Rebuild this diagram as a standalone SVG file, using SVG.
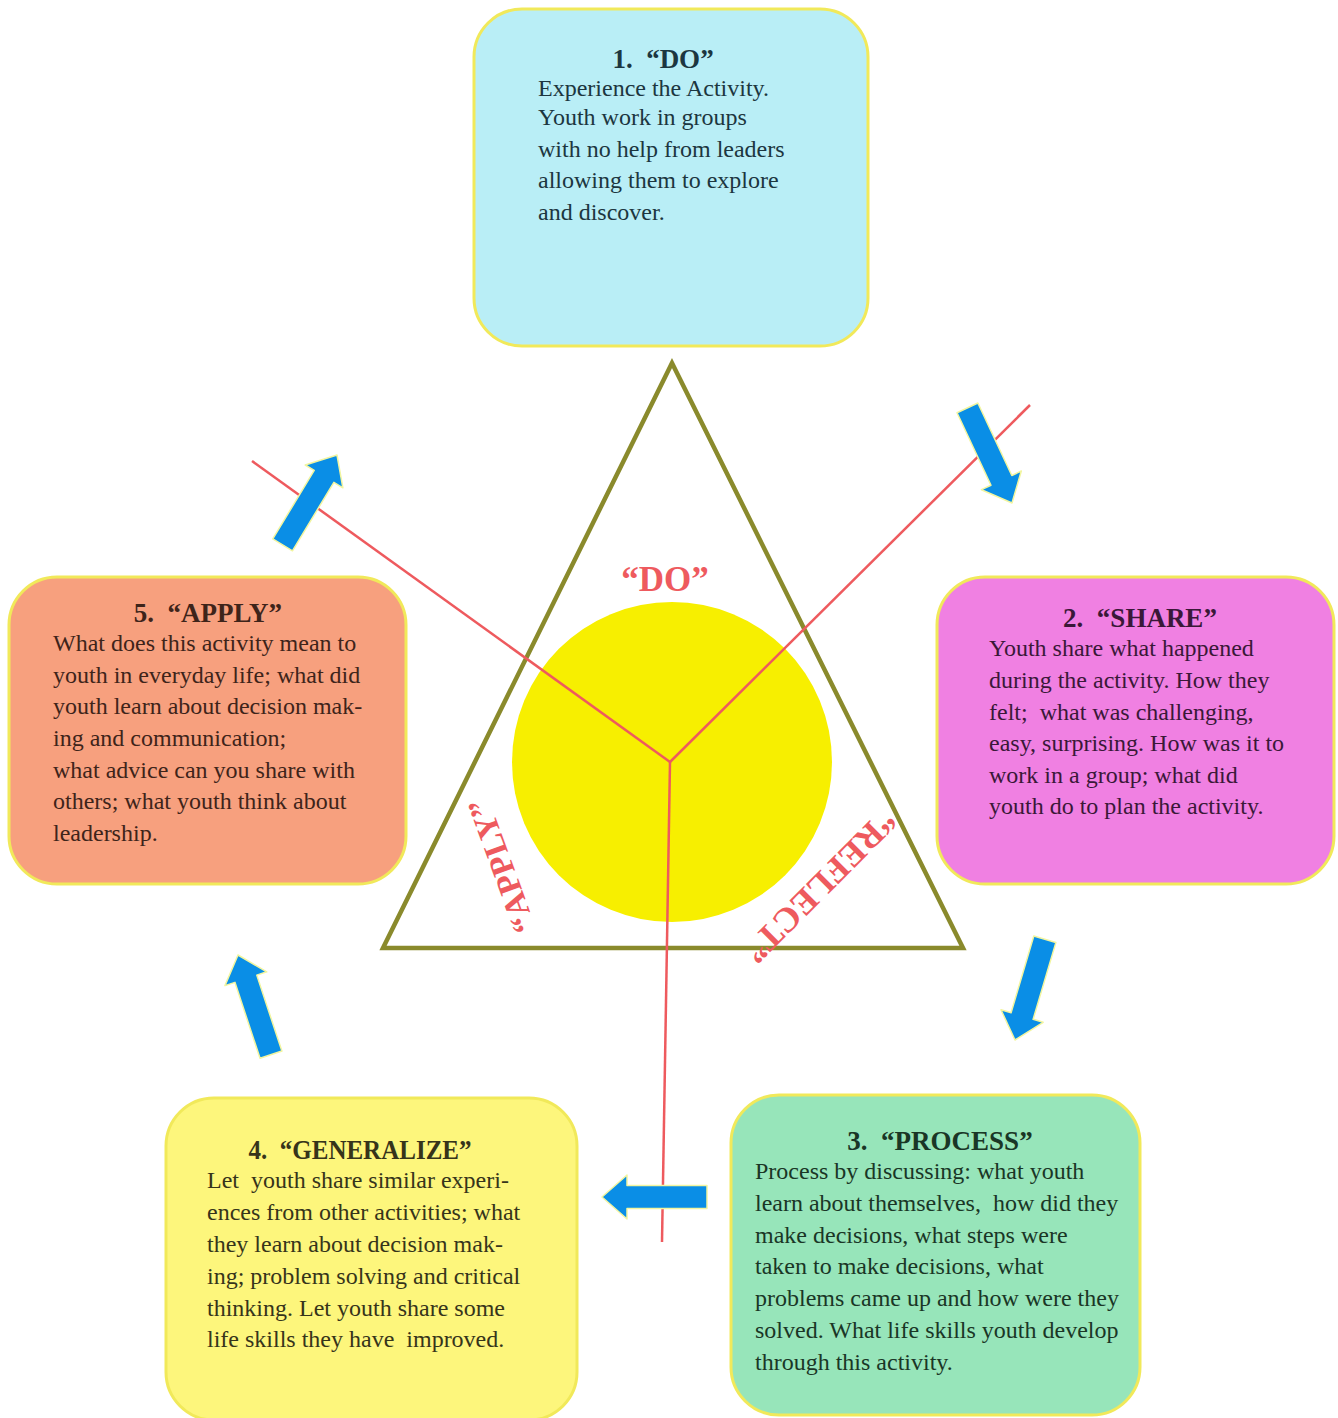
<svg xmlns="http://www.w3.org/2000/svg" width="1338" height="1418" viewBox="0 0 1338 1418">
<style>
.box{stroke:#f1e95a;stroke-width:3}
.t{font-family:"Liberation Serif","Times New Roman",serif;font-size:27px;font-weight:bold;text-anchor:middle;white-space:pre}
.b{font-family:"Liberation Serif","Times New Roman",serif;font-size:24px;white-space:pre}
.lbl{font-family:"Liberation Serif","Times New Roman",serif;font-weight:bold;fill:#ee5a5e;text-anchor:middle}
.arr{fill:#0a8ee6;stroke:#f2f5a0;stroke-width:1.5;stroke-linejoin:round}
.red{stroke:#ee5a5e;stroke-width:2.5;fill:none}
#do text{fill:#1c3640}
#share text{fill:#3a1838}
#process text{fill:#1a3626}
#generalize text{fill:#36341a}
#apply text{fill:#3e241a}
</style>
<defs>
<path id="ar" d="M0,0 L-25,-22 L-25,-11.5 L-105,-11.5 L-105,11.5 L-25,11.5 L-25,22 Z"/>
</defs>
<rect width="1338" height="1418" fill="#ffffff"/>

<g id="center">
<polygon points="672,363 383,948 963,948" fill="none" stroke="#8a8a2c" stroke-width="4.5"/>
<circle cx="672" cy="762" r="160" fill="#f7ef00"/>
<text class="lbl" x="665" y="591" font-size="35">“DO”</text>
<text class="lbl" font-size="33" transform="translate(512,862) rotate(-110)">“APPLY”</text>
<text class="lbl" font-size="35" transform="translate(812,878) rotate(135)">“REFLECT”</text>
</g>

<g id="connectors">
<line class="red" x1="670" y1="762" x2="1030" y2="405"/>
<line class="red" x1="670" y1="762" x2="252" y2="461"/>
<line class="red" x1="670" y1="762" x2="662" y2="1242"/>
<use href="#ar" class="arr" transform="translate(1012,503) rotate(64.9)"/>
<use href="#ar" class="arr" transform="translate(337,455) rotate(-58.8)"/>
<use href="#ar" class="arr" transform="translate(1015,1040) rotate(106.5)"/>
<use href="#ar" class="arr" transform="translate(238,955) rotate(-108.3)"/>
<use href="#ar" class="arr" transform="translate(602,1197) rotate(180)"/>
</g>

<g id="do">
<rect class="box" x="474" y="9" width="394" height="337" rx="48" fill="#b9eef6"/>
<text class="t" x="663" y="68">1.  “DO”</text>
<text class="b" x="538" y="96">Experience the Activity.</text>
<text class="b" x="538" y="125">Youth work in groups</text>
<text class="b" x="538" y="157">with no help from leaders</text>
<text class="b" x="538" y="188">allowing them to explore</text>
<text class="b" x="538" y="220">and discover.</text>
</g>

<g id="share">
<rect class="box" x="937" y="577" width="397" height="307" rx="48" fill="#f080e2"/>
<text class="t" x="1140" y="627">2.  “SHARE”</text>
<text class="b" x="989" y="656">Youth share what happened</text>
<text class="b" x="989" y="688">during the activity. How they</text>
<text class="b" x="989" y="720">felt;  what was challenging,</text>
<text class="b" x="989" y="751">easy, surprising. How was it to</text>
<text class="b" x="989" y="783">work in a group; what did</text>
<text class="b" x="989" y="814">youth do to plan the activity.</text>
</g>

<g id="process">
<rect class="box" x="731" y="1095" width="409" height="320" rx="48" fill="#97e5ba"/>
<text class="t" x="940" y="1150">3.  “PROCESS”</text>
<text class="b" x="755" y="1179">Process by discussing: what youth</text>
<text class="b" x="755" y="1211">learn about themselves,  how did they</text>
<text class="b" x="755" y="1243">make decisions, what steps were</text>
<text class="b" x="755" y="1274">taken to make decisions, what</text>
<text class="b" x="755" y="1306">problems came up and how were they</text>
<text class="b" x="755" y="1338">solved. What life skills youth develop</text>
<text class="b" x="755" y="1370">through this activity.</text>
</g>

<g id="generalize">
<rect class="box" x="166" y="1098" width="411" height="322" rx="48" fill="#fdf67c"/>
<text class="t" x="360" y="1159" textLength="223" lengthAdjust="spacingAndGlyphs">4.  “GENERALIZE”</text>
<text class="b" x="207" y="1188">Let  youth share similar experi-</text>
<text class="b" x="207" y="1220">ences from other activities; what</text>
<text class="b" x="207" y="1252">they learn about decision mak-</text>
<text class="b" x="207" y="1284">ing; problem solving and critical</text>
<text class="b" x="207" y="1316">thinking. Let youth share some</text>
<text class="b" x="207" y="1347">life skills they have  improved.</text>
</g>

<g id="apply">
<rect class="box" x="9" y="577" width="397" height="307" rx="48" fill="#f7a07e"/>
<text class="t" x="208" y="622">5.  “APPLY”</text>
<text class="b" x="53" y="651">What does this activity mean to</text>
<text class="b" x="53" y="683">youth in everyday life; what did</text>
<text class="b" x="53" y="714">youth learn about decision mak-</text>
<text class="b" x="53" y="746">ing and communication;</text>
<text class="b" x="53" y="778">what advice can you share with</text>
<text class="b" x="53" y="809">others; what youth think about</text>
<text class="b" x="53" y="841">leadership.</text>
</g>
</svg>
